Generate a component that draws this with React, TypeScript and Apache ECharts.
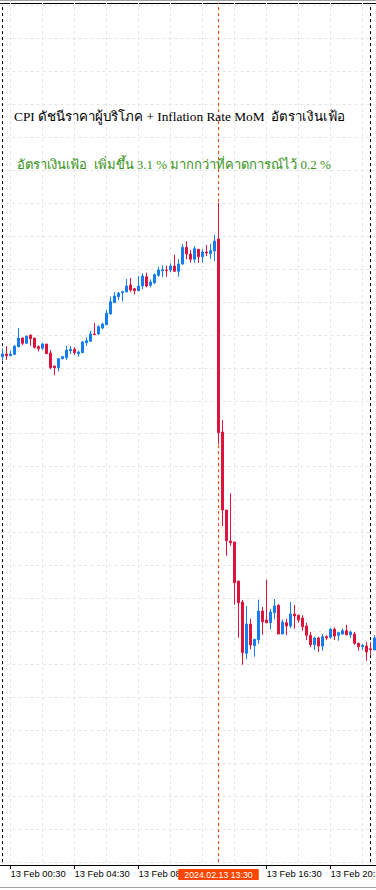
import React, { useEffect, useRef } from "react";
import * as echarts from "echarts";

// 15-minute candles: 13 Feb 00:00 ... 22:45, then 14 Feb 00:00, 00:15
const categories: string[] = [];
for (let i = 0; i < 94; i++) {
  const day = i < 92 ? 13 : 14;
  const m = i < 92 ? i * 15 : (i - 92) * 15;
  const hh = String(Math.floor(m / 60)).padStart(2, "0");
  const mm = String(m % 60).padStart(2, "0");
  categories.push(`${day} Feb ${hh}:${mm}`);
}

const labelIndices = [2, 18, 34, 66, 82];
const gridLineIndices = [2, 10, 18, 26, 34, 42, 50, 58, 66, 74, 82, 90];
const daySeparators = [0, 92];
const eventIndex = 54;
const eventLabel = "2024.02.13 13:30";

const titleText = "CPI ดัชนีราคาผู้บริโภค + Inflation Rate MoM  อัตราเงินเฟ้อ";
const subText = "อัตราเงินเฟ้อ  เพิ่มขึ้น 3.1 % มากกว่าที่คาดการณ์ไว้ 0.2 %";

const opens = [
  2014.33, 2014.6, 2014.43, 2014.57, 2015.33, 2016.2, 2015.67, 2016.5, 2016.2, 2015.33,
  2015.17, 2015.6, 2014.7, 2013.4, 2013.23, 2014.13, 2014.23, 2014.93, 2015.07, 2014.63,
  2014.73, 2015.73, 2015.87, 2016.6, 2016.6, 2017.2, 2017.53, 2018.6, 2019.73, 2020.33,
  2020.73, 2020.8, 2021.5, 2021.13, 2020.93, 2021.4, 2022.33, 2021.47, 2021.73, 2022.47,
  2022.93, 2023.0, 2023.0, 2023.4, 2022.87, 2023.6, 2025.27, 2024.6, 2024.07, 2025.07,
  2024.33, 2024.8, 2024.63, 2024.9, 2026.1, 2006.8, 1999.0, 1995.9, 1995.8, 1991.9,
  1989.8, 1984.67, 1987.6, 1985.43, 1986.03, 1988.9, 1988.0, 1987.73, 1988.73, 1989.47,
  1986.6, 1987.73, 1987.4, 1988.6, 1988.47, 1988.2, 1987.4, 1986.47, 1985.53, 1986.2,
  1985.4, 1986.33, 1986.27, 1987.07, 1986.47, 1986.6, 1986.93, 1986.53, 1986.6, 1985.67,
  1985.33, 1985.4, 1985.13, 1985.0,
];
const closes = [
  2014.6, 2014.43, 2014.6, 2015.37, 2016.2, 2015.67, 2016.4, 2016.13, 2015.27, 2015.13,
  2015.6, 2014.63, 2013.23, 2013.23, 2014.13, 2014.33, 2015.0, 2015.07, 2014.73, 2014.8,
  2015.8, 2015.93, 2016.6, 2016.53, 2017.33, 2017.6, 2018.67, 2019.83, 2020.4, 2020.67,
  2020.83, 2021.4, 2021.0, 2020.93, 2021.4, 2022.4, 2021.4, 2021.8, 2022.53, 2023.0,
  2023.03, 2022.93, 2023.4, 2022.87, 2023.6, 2025.27, 2024.6, 2024.07, 2025.13, 2024.33,
  2024.8, 2024.7, 2024.93, 2025.9, 2006.73, 1999.0, 1995.93, 1995.73, 1991.73, 1989.73,
  1984.73, 1987.6, 1985.5, 1986.07, 1988.9, 1987.83, 1987.73, 1988.8, 1989.4, 1986.6,
  1987.8, 1987.4, 1988.6, 1988.4, 1988.0, 1987.33, 1986.47, 1985.53, 1986.2, 1985.4,
  1986.33, 1986.2, 1987.07, 1986.4, 1986.73, 1986.93, 1986.53, 1986.8, 1985.67, 1985.33,
  1985.47, 1984.8, 1985.03, 1986.2,
];
const lows = [
  2013.93, 2014.0, 2014.4, 2014.5, 2015.27, 2015.47, 2015.6, 2015.43, 2015.13, 2014.87,
  2015.0, 2014.6, 2013.07, 2012.47, 2012.87, 2014.07, 2014.0, 2014.6, 2014.53, 2014.33,
  2014.73, 2015.4, 2015.87, 2016.53, 2016.53, 2017.07, 2017.53, 2018.53, 2019.73, 2020.0,
  2019.87, 2020.8, 2020.83, 2020.57, 2020.93, 2021.07, 2021.27, 2021.27, 2021.6, 2022.33,
  2022.27, 2022.33, 2022.8, 2022.87, 2022.33, 2023.53, 2024.07, 2023.73, 2023.73, 2023.73,
  2023.73, 2024.4, 2024.13, 2023.9, 2005.57, 1997.4, 1994.43, 1995.43, 1989.53, 1986.23,
  1983.53, 1984.07, 1985.07, 1984.33, 1985.63, 1986.53, 1987.67, 1987.07, 1988.07, 1986.6,
  1986.6, 1986.5, 1987.2, 1987.13, 1987.73, 1986.93, 1986.0, 1985.27, 1985.0, 1984.8,
  1984.93, 1986.0, 1986.13, 1986.0, 1985.93, 1986.53, 1986.47, 1986.2, 1985.53, 1984.93,
  1985.0, 1983.93, 1984.53, 1985.0,
];
const highs = [
  2015.13, 2015.4, 2014.93, 2015.5, 2017.2, 2016.27, 2016.4, 2016.5, 2016.2, 2015.47,
  2015.73, 2015.6, 2015.0, 2013.43, 2014.2, 2014.4, 2015.4, 2015.4, 2015.27, 2014.93,
  2015.9, 2016.27, 2016.9, 2017.7, 2017.47, 2017.73, 2019.0, 2020.33, 2020.8, 2020.8,
  2020.93, 2022.1, 2022.2, 2021.2, 2022.4, 2022.67, 2022.73, 2022.07, 2022.67, 2023.33,
  2023.47, 2023.43, 2023.67, 2024.53, 2024.07, 2025.57, 2025.87, 2025.0, 2025.4, 2025.07,
  2025.07, 2025.5, 2025.6, 2026.5, 2029.7, 2008.0, 1999.0, 2000.67, 1995.8, 1991.9,
  1990.0, 1989.4, 1988.13, 1986.1, 1990.03, 1989.3, 1992.03, 1989.1, 1990.1, 1989.57,
  1988.03, 1988.13, 1989.8, 1989.5, 1988.53, 1988.47, 1987.73, 1986.8, 1986.33, 1986.33,
  1986.6, 1986.47, 1987.2, 1987.27, 1986.8, 1987.13, 1987.53, 1986.93, 1986.8, 1985.73,
  1985.6, 1985.8, 1985.8, 1986.47,
];

const priceMin = 1963.79;
const priceMax = 2049.7;
const priceStep = 3.295;

const BULL = "#147DF0";
const BEAR = "#DC143C";
const EVENT = "#FF4500";
const GRID = "#E6E6E6";

export default function App() {
  const ref = useRef<HTMLDivElement>(null);
  useEffect(() => {
    if (!ref.current) return;
    const chart = echarts.init(ref.current, null, { renderer: "svg" });
    const candles = opens.map((o, i) => [o, closes[i], lows[i], highs[i]]);
    chart.setOption({
      animation: false,
      backgroundColor: "#ffffff",
      title: [
        {
          text: titleText,
          left: 14,
          top: 110,
          padding: 0,
          textStyle: {
            fontFamily: "'Liberation Serif', 'Times New Roman', serif",
            fontSize: 13.33,
            fontWeight: "normal",
            color: "#000000",
          },
        },
        {
          text: subText,
          left: 17,
          top: 158,
          padding: 0,
          textStyle: {
            fontFamily: "'Liberation Serif', 'Times New Roman', serif",
            fontSize: 13.0,
            fontWeight: "normal",
            color: "#359317",
          },
        },
      ],
      grid: {
        left: 0.5,
        width: 376,
        top: 3,
        bottom: 27.9,
        containLabel: false,
        outerBoundsMode: "none",
      },
      xAxis: [
        {
          type: "category",
          data: categories,
          boundaryGap: true,
          offset: 2.9,
          axisLine: { lineStyle: { color: "#000", width: 1 } },
          axisTick: {
            show: true,
            alignWithLabel: true,
            length: 4,
            lineStyle: { color: "#000" },
            interval: (i: number) => labelIndices.includes(i),
          },
          axisLabel: {
            interval: (i: number) => labelIndices.includes(i),
            align: "left",
            margin: 4,
            hideOverlap: false,
            fontFamily: "'Liberation Sans', Arial, sans-serif",
            fontSize: 9.4,
            color: "#000",
          },
          splitLine: { show: false },
        },
        {
          type: "category",
          data: categories,
          position: "top",
          axisLine: { lineStyle: { color: "#000", width: 1 } },
          axisTick: { show: false },
          axisLabel: { show: false },
          splitLine: { show: false },
        },
      ],
      yAxis: {
        type: "value",
        min: priceMin,
        max: priceMax,
        interval: priceStep,
        axisLine: { show: false },
        axisTick: { show: false },
        axisLabel: { show: false },
        splitLine: { show: true, lineStyle: { color: GRID, type: [3, 3], width: 1 } },
      },
      series: [
        {
          type: "line",
          data: [],
          z: 1,
          silent: true,
          markLine: {
            z: 1,
            symbol: "none",
            silent: true,
            label: { show: false },
            lineStyle: { color: GRID, type: [3, 3], width: 1 },
            data: gridLineIndices.map((i) => ({ xAxis: categories[i] })),
          },
        },
        {
          type: "line",
          data: [],
          z: 1,
          silent: true,
          markLine: {
            z: 2,
            symbol: "none",
            silent: true,
            label: { show: false },
            data: [
              ...daySeparators.map((i) => ({
                xAxis: categories[i],
                lineStyle: { color: "#000", type: [3, 3], width: 1 },
              })),
              {
                xAxis: categories[eventIndex],
                lineStyle: { color: EVENT, type: [3, 3], width: 1 },
                label: {
                  show: true,
                  position: "start",
                  distance: 7,
                  formatter: eventLabel,
                  backgroundColor: EVENT,
                  color: "#fff",
                  padding: [1, 6, 1, 6],
                  fontFamily: "'Liberation Sans', Arial, sans-serif",
                  fontSize: 8.8,
                },
              },
            ],
          },
        },
        {
          type: "candlestick",
          z: 6,
          barWidth: 2,
          data: candles,
          itemStyle: {
            color: BULL,
            color0: BEAR,
            borderColor: BULL,
            borderColor0: BEAR,
            borderWidth: 1,
          },
        },
      ],
      graphic: [
        { type: "line", shape: { x1: 0, y1: 0.5, x2: 376, y2: 0.5 }, style: { stroke: "#a0a0a0", lineWidth: 1 } },
        { type: "line", shape: { x1: 0, y1: 887.5, x2: 376, y2: 887.5 }, style: { stroke: "#a0a0a0", lineWidth: 1 } },
      ],
    });
    return () => chart.dispose();
  }, []);
  return (
    <div
      ref={ref}
      style={{ position: "absolute", left: 0, top: 0, width: 376, height: 890, background: "#fff" }}
    />
  );
}
